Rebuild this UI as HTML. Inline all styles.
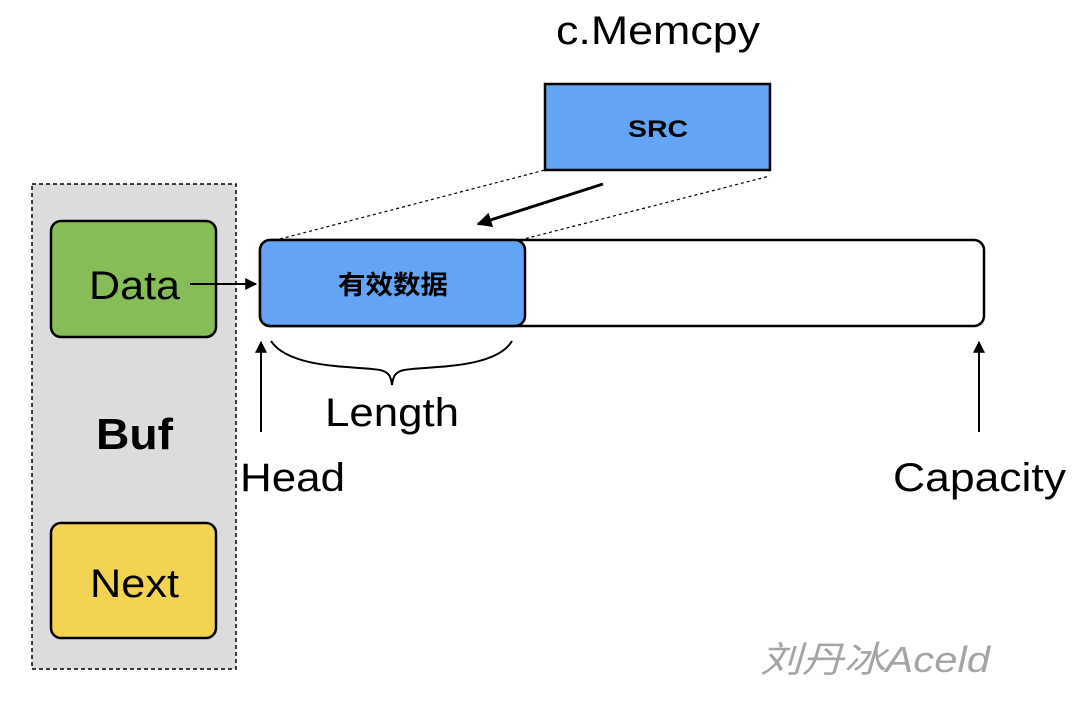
<!DOCTYPE html>
<html><head><meta charset="utf-8"><style>
body{margin:0;background:#fff;}
svg text{font-family:"Liberation Sans","Noto Sans CJK SC",sans-serif;}
</style></head><body>
<svg width="1080" height="719" viewBox="0 0 1080 719" xmlns="http://www.w3.org/2000/svg">
<defs><marker id="a" viewBox="0 0 10 10" refX="9" refY="5" markerWidth="6" markerHeight="6" orient="auto"><path d="M0,0 L10,5 L0,10 z" fill="#000"/></marker>
<marker id="b" viewBox="0 0 10 10" refX="9" refY="5" markerWidth="5" markerHeight="5" orient="auto"><path d="M0,0 L10,5 L0,10 z" fill="#000"/></marker></defs>
<rect x="32" y="184" width="204" height="485" fill="#dcdcde" stroke="#000" stroke-width="1.5" stroke-dasharray="4,3"/>
<rect x="51" y="221" width="165" height="116" rx="10" fill="#86bd56" stroke="#000" stroke-width="2.5"/>
<text x="89" y="299" font-size="40" textLength="91" lengthAdjust="spacingAndGlyphs">Data</text>
<text x="96" y="449" font-size="44" font-weight="bold" textLength="77" lengthAdjust="spacingAndGlyphs">Buf</text>
<rect x="51" y="523" width="165" height="115" rx="10" fill="#f2d451" stroke="#000" stroke-width="2.5"/>
<text x="90" y="597" font-size="40" textLength="89" lengthAdjust="spacingAndGlyphs">Next</text>
<line x1="190" y1="284" x2="256" y2="284" stroke="#000" stroke-width="2" marker-end="url(#a)"/>
<text x="556" y="44" font-size="40" textLength="204" lengthAdjust="spacingAndGlyphs">c.Memcpy</text>
<rect x="545" y="84" width="225" height="86" fill="#63a5f4" stroke="#000" stroke-width="2.5"/>
<text x="628" y="137" font-size="24" font-weight="bold" textLength="60" lengthAdjust="spacingAndGlyphs">SRC</text>
<line x1="280" y1="239" x2="545" y2="170" stroke="#000" stroke-width="1.2" stroke-dasharray="3,3"/>
<line x1="520" y1="240" x2="770" y2="176" stroke="#000" stroke-width="1.2" stroke-dasharray="3,3"/>
<line x1="603" y1="184" x2="478" y2="224" stroke="#000" stroke-width="3" marker-end="url(#b)"/>
<rect x="260" y="240" width="724" height="86" rx="10" fill="#fff" stroke="#000" stroke-width="2.5"/>
<rect x="260" y="240" width="265" height="86" rx="10" fill="#63a5f4" stroke="#000" stroke-width="2.5"/>
<text x="338" y="294" font-size="26" font-weight="bold" textLength="110" lengthAdjust="spacingAndGlyphs">有效数据</text>
<path d="M271,341 C290,370 360,366 380,370 C390,372 391,378 392,385 C393,378 394,372 404,370 C424,366 495,370 512,341" fill="none" stroke="#000" stroke-width="2"/>
<text x="325" y="426" font-size="40" textLength="134" lengthAdjust="spacingAndGlyphs">Length</text>
<line x1="261" y1="432" x2="261" y2="342" stroke="#000" stroke-width="2" marker-end="url(#a)"/>
<text x="240" y="491" font-size="40" textLength="105" lengthAdjust="spacingAndGlyphs">Head</text>
<line x1="979" y1="432" x2="979" y2="342" stroke="#000" stroke-width="2" marker-end="url(#a)"/>
<text x="893" y="491" font-size="40" textLength="173" lengthAdjust="spacingAndGlyphs">Capacity</text>
<text x="760" y="672" font-size="36" fill="#a5a5a5" font-style="italic" textLength="230" lengthAdjust="spacingAndGlyphs">刘丹冰Aceld</text>
</svg>
</body></html>
